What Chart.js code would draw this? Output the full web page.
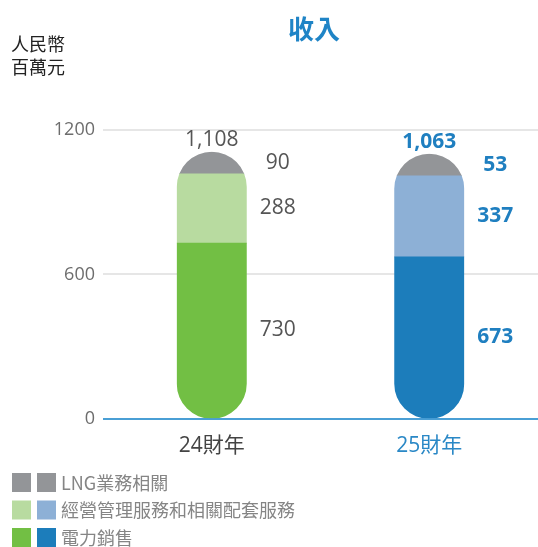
<!DOCTYPE html>
<html>
<head>
<meta charset="utf-8">
<script src="https://cdn.jsdelivr.net/npm/chart.js@4"></script>
<style>
  html, body { margin: 0; padding: 0; background: #ffffff; }
  #wrap { width: 538px; height: 547px; }
</style>
</head>
<body>
<div id="wrap"><canvas id="revenue" width="538" height="547"></canvas></div>
<script>
// data
var categories = ['24財年', '25財年'];
var powerSales = [730, 673];
var mgmtServices = [288, 337];
var lngBusiness = [90, 53];
var totals = ['1,108', '1,063'];
var seriesNames = ['LNG業務相關', '經營管理服務和相關配套服務', '電力銷售'];
var yTicks = [0, 600, 1200];

var FONT = '"Open Sans", "Noto Sans CJK TC", sans-serif';
var CJK = '"Noto Sans CJK TC", "Open Sans", sans-serif';
var yearColors = ['#444444', '#2a88c6'];
var labelColors = ['#555555', '#1f7fc0'];

// clip the stacked bars into a pill shape and write the value labels
var pillPlugin = {
    id: 'pill',
    beforeDatasetsDraw: function(chart) {
        var ctx = chart.ctx;
        var y = chart.scales.y;
        var topMeta = chart.getDatasetMeta(2);
        ctx.save();
        ctx.beginPath();
        topMeta.data.forEach(function(bar) {
            var w = bar.width;
            var bottom = y.getPixelForValue(0);
            ctx.roundRect(bar.x - w / 2, bar.y, w, bottom - bar.y, w / 2);
        });
        ctx.clip();
    },
    afterDatasetsDraw: function(chart) {
        var ctx = chart.ctx;
        ctx.restore();
        ctx.save();
        ctx.textAlign = 'center';
        ctx.textBaseline = 'middle';
        chart.data.datasets.forEach(function(ds, d) {
            var meta = chart.getDatasetMeta(d);
            meta.data.forEach(function(bar, i) {
                ctx.fillStyle = labelColors[i];
                ctx.font = (i == 1 ? 'bold ' : '') + '21px ' + FONT;
                var mid = (bar.y + bar.base) / 2;
                ctx.fillText(String(ds.data[i]), bar.x + 66, mid);
            });
        });
        chart.getDatasetMeta(2).data.forEach(function(bar, i) {
            ctx.fillStyle = labelColors[i];
            ctx.font = (i == 1 ? 'bold ' : '') + '21px ' + FONT;
            ctx.fillText(totals[i], bar.x, bar.y - 12);
        });
        ctx.restore();
    },
    afterDraw: function(chart) {
        var ctx = chart.ctx;
        ctx.save();
        // title
        ctx.textAlign = 'center';
        ctx.textBaseline = 'middle';
        ctx.fillStyle = '#1f84c6';
        ctx.font = 'bold 26px ' + CJK;
        ctx.fillText('收入', 314, 29);
        // unit
        ctx.textAlign = 'left';
        ctx.fillStyle = '#222222';
        ctx.font = '18px ' + CJK;
        ctx.fillText('人民幣', 11, 44);
        ctx.fillText('百萬元', 11, 67);
        // legend, one row per series with both years' swatches
        var ds = chart.data.datasets;
        var rows = [ds[2], ds[1], ds[0]];
        rows.forEach(function(set, r) {
            var top = 473 + r * 27.5;
            ctx.fillStyle = set.backgroundColor[0];
            ctx.fillRect(12, top, 19, 19);
            ctx.fillStyle = set.backgroundColor[1];
            ctx.fillRect(37, top, 19, 19);
            ctx.fillStyle = '#858585';
            ctx.font = '18px ' + CJK;
            ctx.fillText(seriesNames[r], 61, top + 10);
        });
        ctx.restore();
    }
};

var ctx = document.getElementById('revenue').getContext('2d');
var revenueChart = new Chart(ctx, {
    type: 'bar',
    data: {
        labels: categories,
        datasets: [{
            label: seriesNames[2],
            data: powerSales,
            backgroundColor: ['#72bf44', '#1c7dbb']
        }, {
            label: seriesNames[1],
            data: mgmtServices,
            backgroundColor: ['#b8dba0', '#8db0d6']
        }, {
            label: seriesNames[0],
            data: lngBusiness,
            minBarLength: 22,
            backgroundColor: ['#939598', '#939598']
        }]
    },
    options: {
        responsive: false,
        animation: false,
        barThickness: 70,
        layout: { padding: { top: 130, bottom: 81, left: 0, right: 0 } },
        plugins: {
            legend: { display: false },
            tooltip: { enabled: false }
        },
        scales: {
            x: {
                stacked: true,
                grid: { display: false },
                border: { display: false },
                ticks: {
                    padding: 7,
                    color: yearColors,
                    font: { family: FONT, size: 21 }
                }
            },
            y: {
                stacked: true,
                min: 0,
                max: 1200,
                afterFit: function(scale) { scale.width = 103; },
                afterBuildTicks: function(scale) {
                    scale.ticks = yTicks.map(function(v) { return { value: v }; });
                },
                border: { display: false },
                grid: {
                    drawTicks: false,
                    lineWidth: 2,
                    color: function(c) { return c.tick && c.tick.value === 0 ? '#4a9fd5' : '#e6e6e6'; }
                },
                ticks: {
                    padding: 8,
                    color: '#6d6d6d',
                    font: { family: FONT, size: 18 },
                    callback: function(v) { return String(v); }
                }
            }
        }
    },
    plugins: [pillPlugin]
});
</script>
</body>
</html>
